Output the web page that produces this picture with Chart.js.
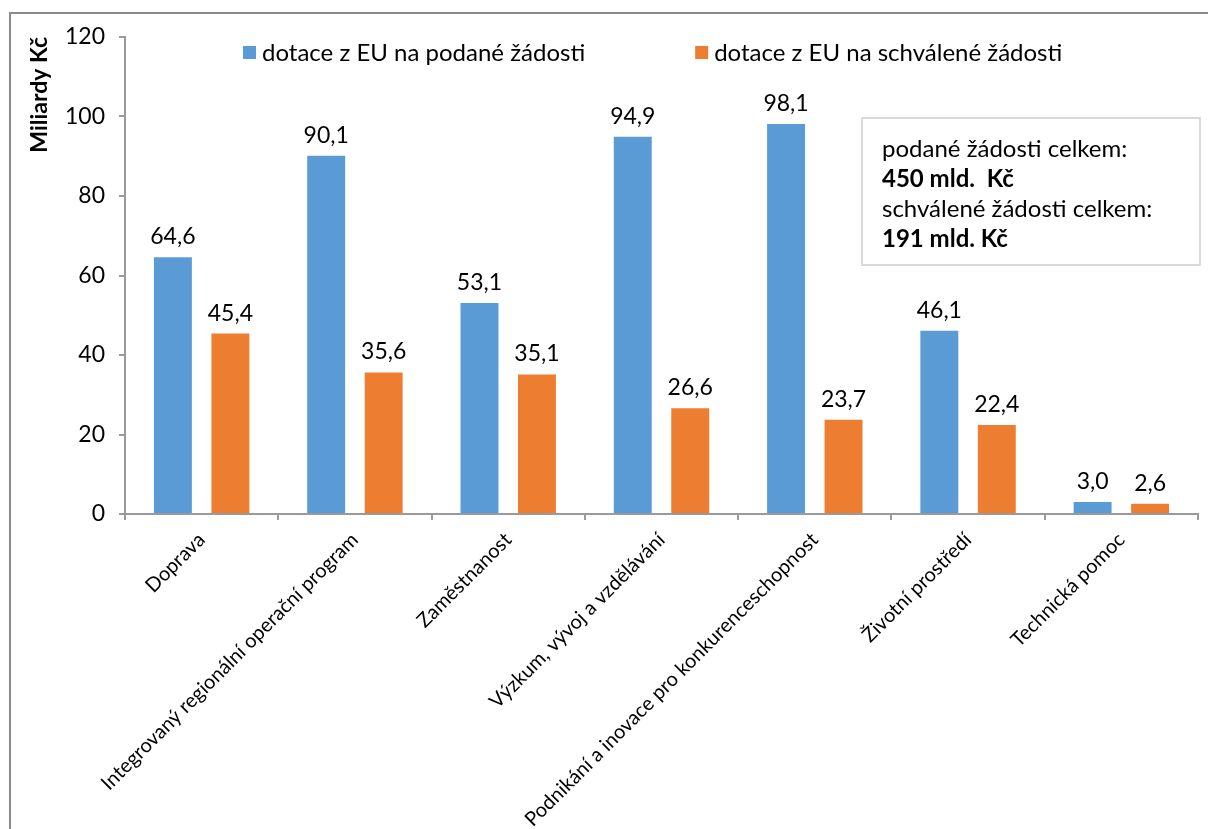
<!DOCTYPE html>
<html lang="cs">
<head>
<meta charset="utf-8">
<title>Dotace z EU</title>
<script src="https://cdn.jsdelivr.net/npm/chart.js@4.4.1/dist/chart.umd.min.js"></script>
<style>
  html, body { margin: 0; padding: 0; background: #fff; overflow: hidden; }
  .frame {
    position: absolute; left: 9px; top: 12px; width: 1300px; height: 900px;
    border-left: 2px solid #8a8a8a; border-top: 2px solid #8a8a8a;
  }
  #chart { position: absolute; left: 0; top: 0; }
</style>
</head>
<body>
<div class="frame"></div>
<canvas id="chart" width="1208" height="829"></canvas>
<script>
const categories = [
    'Doprava',
    'Integrovaný regionální operační program',
    'Zaměstnanost',
    'Výzkum, vývoj a vzdělávání',
    'Podnikání a inovace pro konkurenceschopnost',
    'Životní prostředí',
    'Technická pomoc',
];
const podane = [64.6, 90.1, 53.1, 94.9, 98.1, 46.1, 3.0];
const schvalene = [45.4, 35.6, 35.1, 26.6, 23.7, 22.4, 2.6];
const seriesNames = ['dotace z EU na podané žádosti', 'dotace z EU na schválené žádosti'];
const seriesColors = ['#5b9bd5', '#ed7d31'];
const yMin = 0;
const yMax = 120;
const yStep = 20;
const noteLines = [
    { text: 'podané žádosti celkem:', bold: false },
    { text: '450 mld.  Kč', bold: true },
    { text: 'schválené žádosti celkem:', bold: false },
    { text: '191 mld. Kč', bold: true },
];

const FONT = 'Lato, "Open Sans", sans-serif';
const AXIS_GREY = '#9a9a9a';

const fmt = (v) => v.toFixed(1).replace('.', ',');

// value labels, legend and the totals box
const extras = {
    id: 'extras',
    afterDatasetsDraw(chart) {
        const ctx = chart.ctx;
        const area = chart.chartArea;
        ctx.save();

        // value labels above bars
        ctx.fillStyle = '#000';
        ctx.font = `23px ${FONT}`;
        ctx.textAlign = 'center';
        ctx.textBaseline = 'alphabetic';
        chart.data.datasets.forEach((ds, i) => {
            chart.getDatasetMeta(i).data.forEach((bar, j) => {
                ctx.fillText(fmt(ds.data[j]), bar.x, bar.y - 13);
            });
        });

        // legend inside plot area
        ctx.font = `24px ${FONT}`;
        ctx.textAlign = 'left';
        ctx.textBaseline = 'middle';
        let x = 243;
        const y = area.top + 16;
        chart.data.datasets.forEach((ds) => {
            ctx.fillStyle = ds.backgroundColor;
            ctx.fillRect(x, y - 7, 13, 13);
            ctx.fillStyle = '#000';
            ctx.fillText(ds.label, x + 19, y);
            x += 19 + ctx.measureText(ds.label).width + 110;
        });

        // totals box
        const bx = 862, by = 118, bw = 338, bh = 147;
        ctx.fillStyle = '#fff';
        ctx.fillRect(bx, by, bw, bh);
        ctx.strokeStyle = '#d9d9d9';
        ctx.lineWidth = 2;
        ctx.strokeRect(bx, by, bw, bh);
        ctx.fillStyle = '#000';
        ctx.textBaseline = 'alphabetic';
        noteLines.forEach((line, i) => {
            ctx.font = `${line.bold ? 'bold ' : ''}24px ${FONT}`;
            ctx.fillText(line.text, bx + 20, by + 39 + i * 30);
        });

        ctx.restore();
    },
};

new Chart(document.getElementById('chart'), {
    type: 'bar',
    data: {
        labels: categories,
        datasets: [
            { label: seriesNames[0], data: podane, backgroundColor: seriesColors[0] },
            { label: seriesNames[1], data: schvalene, backgroundColor: seriesColors[1] },
        ],
    },
    options: {
        responsive: false,
        animation: false,
        events: [],
        categoryPercentage: 0.75,
        barPercentage: 0.66,
        layout: {
            padding: { left: 14, right: 10, top: 37, bottom: 0 },
        },
        plugins: {
            legend: { display: false },
            tooltip: { enabled: false },
        },
        scales: {
            x: {
                afterFit(scale) { scale.height = 315; },
                border: { color: AXIS_GREY, width: 2 },
                grid: {
                    offset: true,
                    drawOnChartArea: false,
                    color: AXIS_GREY,
                    lineWidth: 2,
                    tickLength: 6,
                },
                ticks: {
                    autoSkip: false,
                    minRotation: 45,
                    maxRotation: 45,
                    padding: 8,
                    color: '#000',
                    font: { family: FONT, size: 20 },
                },
            },
            y: {
                min: yMin,
                max: yMax,
                afterFit(scale) { scale.width = 111; },
                border: { color: AXIS_GREY, width: 2 },
                grid: {
                    drawOnChartArea: false,
                    color: AXIS_GREY,
                    lineWidth: 2,
                    tickLength: 6,
                },
                ticks: {
                    stepSize: yStep,
                    padding: 14,
                    color: '#000',
                    font: { family: FONT, size: 23 },
                },
                title: {
                    display: true,
                    text: 'Miliardy Kč',
                    align: 'end',
                    color: '#000',
                    font: { family: FONT, size: 23, weight: 'bold' },
                    padding: { top: 12, bottom: 0 },
                },
            },
        },
    },
    plugins: [extras],
});
</script>
</body>
</html>
